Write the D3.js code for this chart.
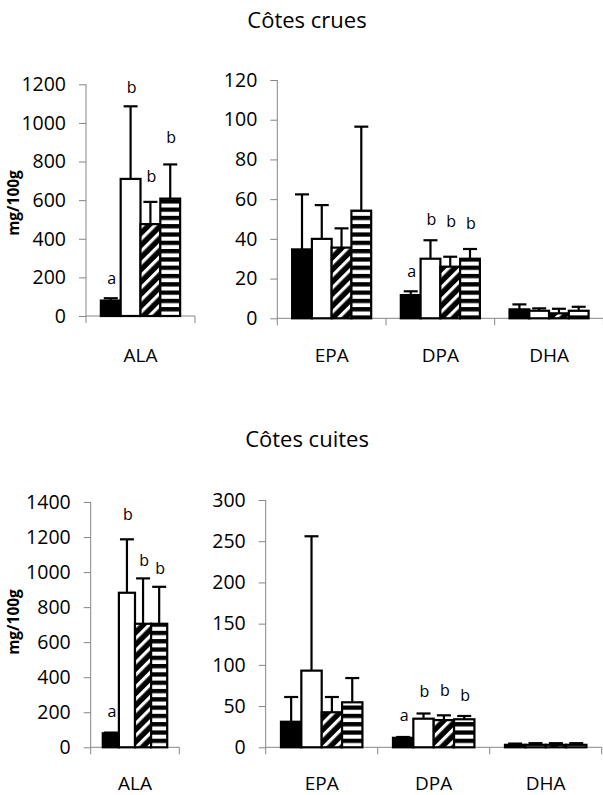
<!DOCTYPE html>
<html><head><meta charset="utf-8">
<script src="https://cdn.jsdelivr.net/npm/d3@7"></script>
<style>
html,body{margin:0;padding:0;background:#fff;}
text{font-family:"Open Sans","Noto Sans",sans-serif;fill:#000;}
</style></head>
<body><svg id="chart" width="603" height="795"></svg>
<script>
// ---------- DATA ----------
const series = ["noir", "blanc", "hachuré", "rayé"];
const catALA = ["ALA"];
const catOther = ["EPA", "DPA", "DHA"];

// Côtes crues (mg/100g) : moyennes et écarts (barre d'erreur supérieure)
const cruesALA = [80, 710, 476, 608];
const cruesALAerr = [12, 376, 115, 177];
const cruesEPA = [34.7, 40, 35.6, 54.2];
const cruesEPAerr = [27.7, 17, 9.7, 42.3];
const cruesDPA = [11.7, 30, 26, 30];
const cruesDPAerr = [1.9, 9.3, 5, 4.9];
const cruesDHA = [4.5, 3.8, 2.5, 3.8];
const cruesDHAerr = [2.5, 1.2, 2.3, 2];

// Côtes cuites
const cuitesALA = [80, 882, 705, 705];
const cuitesALAerr = [4, 305, 259, 211];
const cuitesEPA = [31, 93, 42.5, 54.6];
const cuitesEPAerr = [30, 163, 18.5, 29.4];
const cuitesDPA = [11.5, 34.7, 33, 34];
const cuitesDPAerr = [1, 6.3, 5.8, 4];
const cuitesDHA = [3, 3, 3, 3];
const cuitesDHAerr = [1.5, 2, 2, 2];

// Lettres de significativité et leur hauteur (en mg/100g)
const sigLetters = ["a", "b", "b", "b"];
const cruesALAsigY = [166, 1153, 694, 894];
const cruesDPAsigY = [21, 47, 46, 44.8];
const cuitesALAsigY = [171, 1297, 1036, 989];
const cuitesDPAsigY = [32, 60.6, 62.6, 56.5];

// Axes
const ticksCruesALA = [0, 200, 400, 600, 800, 1000, 1200];
const ticksCruesOther = [0, 20, 40, 60, 80, 100, 120];
const ticksCuitesALA = [0, 200, 400, 600, 800, 1000, 1200, 1400];
const ticksCuitesOther = [0, 50, 100, 150, 200, 250, 300];

const titles = ["Côtes crues", "Côtes cuites"];
const yTitle = "mg/100g";

// ---------- DRAW ----------
const svg = d3.select("#chart");
const defs = svg.append("defs");
const pd = defs.append("pattern").attr("id", "diag").attr("patternUnits", "userSpaceOnUse")
  .attr("width", 8.6).attr("height", 8.6).attr("patternTransform", "rotate(45)");
pd.append("rect").attr("width", 8.6).attr("height", 8.6).attr("fill", "#000");
pd.append("rect").attr("x", 0).attr("width", 3.2).attr("height", 8.6).attr("fill", "#fff");
const ph = defs.append("pattern").attr("id", "horiz").attr("patternUnits", "userSpaceOnUse")
  .attr("width", 8.3).attr("height", 8.3);
ph.append("rect").attr("width", 8.3).attr("height", 8.3).attr("fill", "#fff");
ph.append("rect").attr("y", 0).attr("width", 8.3).attr("height", 4.3).attr("fill", "#000");

const fills = ["#000", "#fff", "url(#diag)", "url(#horiz)"];
const axisColor = "#868686";

function panel(cfg) {
  const y = d3.scaleLinear().domain([0, cfg.max]).range([cfg.y0, cfg.yTop]);
  const xc = d3.scaleBand().domain(cfg.cats).range([cfg.x0, cfg.x1]).padding(0);
  const xs = d3.scaleBand().domain(series).range([0, xc.bandwidth()]).paddingInner(0).paddingOuter(0.75);
  const g = svg.append("g");

  // y axis
  const ya = g.append("g").attr("transform", `translate(${cfg.x0},0)`)
    .call(d3.axisLeft(y).tickValues(cfg.ticks).tickSize(7).tickSizeOuter(0).tickPadding(13).tickFormat(d3.format("d")));
  ya.select(".domain").attr("stroke", axisColor).attr("d", `M0,${cfg.yTop}V${cfg.y0 + 7}`);
  ya.selectAll(".tick line").attr("stroke", axisColor);
  ya.selectAll(".tick text").attr("font-size", 19.5).attr("font-family", '"Open Sans",sans-serif').attr("fill", "#000");

  // x axis
  g.append("line").attr("x1", cfg.x0).attr("x2", cfg.x1).attr("y1", cfg.y0).attr("y2", cfg.y0)
    .attr("stroke", axisColor);
  const bounds = cfg.cats.map(c => xc(c)).concat([cfg.x1]).slice(1);
  g.selectAll(".xt").data(bounds).join("line").attr("class", "xt")
    .attr("x1", d => d).attr("x2", d => d).attr("y1", cfg.y0).attr("y2", cfg.y0 + 7)
    .attr("stroke", axisColor);
  g.selectAll(".xl").data(cfg.cats).join("text").attr("class", "xl")
    .attr("x", d => xc(d) + xc.bandwidth() / 2).attr("y", cfg.labelY)
    .attr("text-anchor", "middle").attr("font-size", 19).text(d => d);

  // bars
  cfg.cats.forEach((c, ci) => {
    const vals = cfg.values[ci], errs = cfg.errors[ci];
    const gg = g.append("g").attr("transform", `translate(${xc(c)},0)`);
    const rows = series.map((s, i) => ({ s, i, v: vals[i], e: errs[i] }));
    gg.selectAll(".eb").data(rows).join("line").attr("class", "eb")
      .attr("x1", d => xs(d.s) + xs.bandwidth() / 2).attr("x2", d => xs(d.s) + xs.bandwidth() / 2)
      .attr("y1", d => y(d.v)).attr("y2", d => y(d.v + d.e))
      .attr("stroke", "#000").attr("stroke-width", 2.2);
    gg.selectAll(".ec").data(rows).join("line").attr("class", "ec")
      .attr("x1", d => xs(d.s) + xs.bandwidth() / 2 - 7).attr("x2", d => xs(d.s) + xs.bandwidth() / 2 + 7)
      .attr("y1", d => y(d.v + d.e)).attr("y2", d => y(d.v + d.e))
      .attr("stroke", "#000").attr("stroke-width", 2.2);
    gg.selectAll(".bar").data(rows).join("rect").attr("class", "bar")
      .attr("x", d => xs(d.s)).attr("width", xs.bandwidth())
      .attr("y", d => y(d.v)).attr("height", d => y(0) - y(d.v))
      .attr("fill", d => fills[d.i]).attr("stroke", "#000").attr("stroke-width", 2.2);
    if (cfg.sig && cfg.sig[ci]) {
      gg.selectAll(".sig").data(rows).join("text").attr("class", "sig")
        .attr("x", d => xs(d.s) + xs.bandwidth() / 2 + 1).attr("y", d => y(cfg.sig[ci][d.i]))
        .attr("text-anchor", "middle").attr("font-size", 16).text(d => sigLetters[d.i]);
    }
  });
  return y;
}

// Titles
svg.append("text").attr("x", 307).attr("y", 28).attr("text-anchor", "middle").attr("font-size", 22).text(titles[0]);
svg.append("text").attr("x", 307).attr("y", 447).attr("text-anchor", "middle").attr("font-size", 22).text(titles[1]);
[203, 622].forEach(cy => {
  svg.append("text").attr("transform", `translate(19,${cy}) rotate(-90)`).attr("text-anchor", "middle")
    .attr("font-size", 15.5).attr("font-weight", "bold").text(yTitle);
});

panel({ cats: catALA, x0: 86, x1: 195, y0: 316, yTop: 84.3, max: 1200, ticks: ticksCruesALA, labelY: 362,
  values: [cruesALA], errors: [cruesALAerr], sig: [cruesALAsigY] });
panel({ cats: catOther, x0: 277.3, x1: 603.4, y0: 318.3, yTop: 80, max: 120, ticks: ticksCruesOther, labelY: 362,
  values: [cruesEPA, cruesDPA, cruesDHA], errors: [cruesEPAerr, cruesDPAerr, cruesDHAerr], sig: [null, cruesDPAsigY, null] });
panel({ cats: catALA, x0: 90.7, x1: 179.3, y0: 747.3, yTop: 502, max: 1400, ticks: ticksCuitesALA, labelY: 790,
  values: [cuitesALA], errors: [cuitesALAerr], sig: [cuitesALAsigY] });
panel({ cats: catOther, x0: 265.7, x1: 601.7, y0: 747.3, yTop: 500, max: 300, ticks: ticksCuitesOther, labelY: 790,
  values: [cuitesEPA, cuitesDPA, cuitesDHA], errors: [cuitesEPAerr, cuitesDPAerr, cuitesDHAerr], sig: [null, cuitesDPAsigY, null] });
</script></body></html>
